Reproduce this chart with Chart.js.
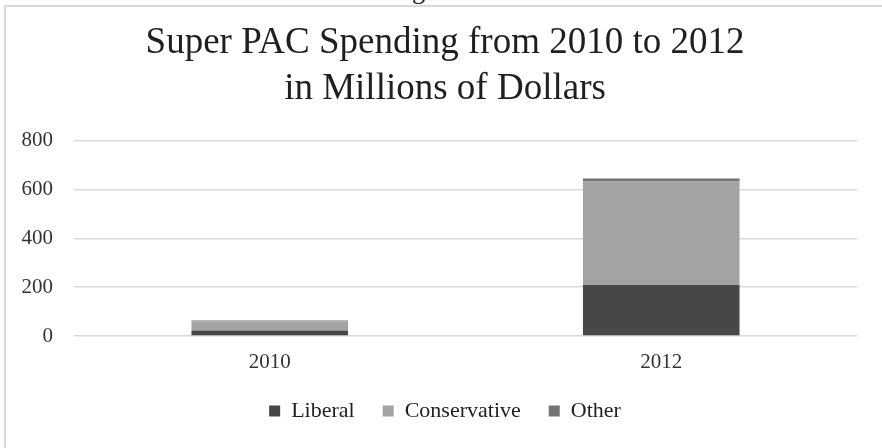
<!DOCTYPE html>
<html>
<head>
<meta charset="utf-8">
<script src="https://cdn.jsdelivr.net/npm/chart.js@4.4.0/dist/chart.umd.min.js"></script>
<style>
  html, body { margin: 0; padding: 0; background: #fff; overflow: hidden; }
  body { width: 882px; height: 448px; position: relative; }
  .frame { position: absolute; left: 4px; top: 5px; width: 1000px; height: 600px;
           border-left: 2px solid #d9d9d9; border-top: 2px solid #d9d9d9; }
  .heading { position: absolute; left: 412px; top: -24px; font: 26px "Liberation Serif", serif; color: #222; }
  .wrap { position: absolute; left: 0; top: 0; width: 890px; height: 448px; }
</style>
</head>
<body>
<div class="heading">g</div>
<div class="frame"></div>
<div class="wrap"><canvas id="spending"></canvas></div>
<script>
// Super PAC spending, millions of dollars
const years = ['2010', '2012'];
const liberal = [22, 209];
const conservative = [38, 423];
const other = [3, 13];
const yTicks = [0, 200, 400, 600, 800];

const serif = '"Liberation Serif", "DejaVu Serif", serif';

new Chart('spending', {
  type: 'bar',
  data: {
    labels: years,
    datasets: [
      { label: 'Liberal', data: liberal, backgroundColor: '#474747' },
      { label: 'Conservative', data: conservative, backgroundColor: '#a3a3a3' },
      { label: 'Other', data: other, backgroundColor: '#737373' }
    ]
  },
  options: {
    responsive: true,
    maintainAspectRatio: false,
    animation: false,
    categoryPercentage: 1,
    barPercentage: 0.4,
    layout: { padding: { left: 0, right: 0, top: 0, bottom: 16 } },
    plugins: {
      title: {
        display: true,
        text: ['Super PAC Spending from 2010 to 2012', 'in Millions of Dollars'],
        color: '#1f1f1f',
        font: { family: serif, size: 37, weight: 'normal', lineHeight: 1.25 },
        padding: { top: 20, bottom: 28 }
      },
      legend: {
        position: 'bottom',
        labels: {
          color: '#1f1f1f',
          font: { family: serif, size: 22 },
          boxWidth: 11,
          boxHeight: 11,
          padding: 28
        }
      },
      tooltip: { enabled: false }
    },
    scales: {
      x: {
        stacked: true,
        grid: { display: false },
        border: { display: false },
        ticks: { color: '#333', font: { family: serif, size: 21 }, padding: 6 },
        afterFit: s => { s.height = 36; }
      },
      y: {
        stacked: true,
        min: 0,
        max: 800,
        afterBuildTicks: s => { s.ticks = yTicks.map(v => ({ value: v })); },
        grid: { color: '#d9d9d9', lineWidth: 1.5, drawTicks: false },
        border: { display: false },
        ticks: { color: '#333', font: { family: serif, size: 21 }, padding: 21 },
        afterFit: s => { s.width = 74; }
      },
      // empty right-hand margin so the plot ends where the title box does not
      gap: {
        position: 'right',
        min: 0,
        max: 800,
        grid: { display: false },
        border: { display: false },
        ticks: { display: false },
        afterFit: s => { s.width = 33; }
      }
    }
  }
});
</script>
</body>
</html>
